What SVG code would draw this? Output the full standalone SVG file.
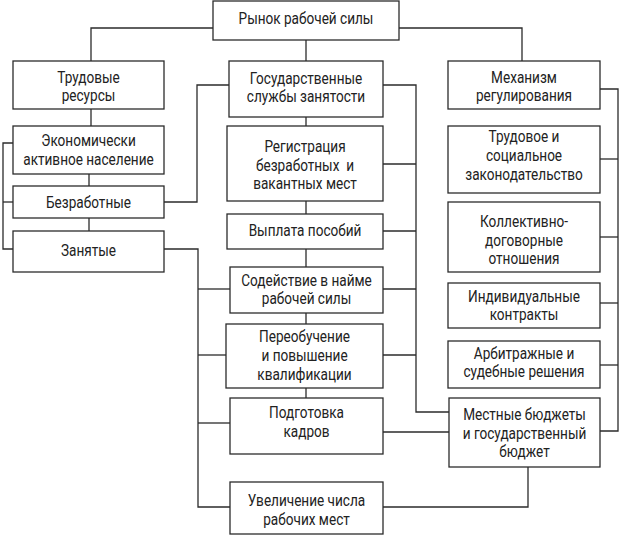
<svg xmlns="http://www.w3.org/2000/svg" width="620" height="535" viewBox="0 0 620 535">
<style>
rect{fill:#fff;stroke:#2b2b2b;stroke-width:1.3}
.c polyline,.c line{fill:none;stroke:#2b2b2b;stroke-width:1.3}
text{font-family:Roboto,"Noto Sans",sans-serif;font-size:17px;fill:#222;text-anchor:middle}
</style>
<rect x="0" y="0" width="620" height="535" style="fill:#fff;stroke:none"/>
<g class="c" id="connectors">
<polyline points="213,28 91,28 91,61"/>
<polyline points="399,28 522,28 522,61"/>
<line x1="306" y1="40" x2="306" y2="61"/>
<line x1="91" y1="109" x2="91" y2="126"/>
<line x1="89" y1="174" x2="89" y2="186"/>
<line x1="89" y1="218" x2="89" y2="231"/>
<polyline points="13,143 3,143 3,249 13,249"/>
<line x1="3" y1="202" x2="13" y2="202"/>
<polyline points="164,202 197,202 197,85 229,85"/>
<polyline points="164,249 198,249 198,507 230,507"/>
<line x1="198" y1="289" x2="230" y2="289"/>
<line x1="198" y1="355" x2="226" y2="355"/>
<line x1="198" y1="423" x2="230" y2="423"/>
<line x1="306" y1="117" x2="306" y2="126"/>
<line x1="306" y1="201" x2="306" y2="214"/>
<line x1="306" y1="249" x2="306" y2="267"/>
<line x1="306" y1="313" x2="306" y2="324"/>
<line x1="306" y1="388" x2="306" y2="398"/>
<polyline points="383,85 416,85 416,412 449,412"/>
<line x1="383" y1="164" x2="416" y2="164"/>
<line x1="383" y1="231" x2="416" y2="231"/>
<line x1="383" y1="289" x2="416" y2="289"/>
<line x1="383" y1="355" x2="416" y2="355"/>
<line x1="383" y1="432" x2="449" y2="432"/>
<polyline points="383,507 528,507 528,467"/>
<polyline points="600,89 618,89 618,431 600,431"/>
<line x1="600" y1="159" x2="618" y2="159"/>
<line x1="600" y1="237" x2="618" y2="237"/>
<line x1="600" y1="303" x2="618" y2="303"/>
<line x1="600" y1="365" x2="618" y2="365"/>
</g>
<g id="n-market"><rect x="213" y="1" width="186" height="39"/><text transform="translate(306,24) scale(0.8,1)">Рынок рабочей силы</text></g>
<g id="n-labor"><rect x="13" y="61" width="151" height="48"/><text transform="translate(88.5,83) scale(0.8,1)">Трудовые</text><text transform="translate(88.5,101) scale(0.8,1)">ресурсы</text></g>
<g id="n-active"><rect x="13" y="126" width="151" height="48"/><text transform="translate(88.5,146) scale(0.8,1)">Экономически</text><text transform="translate(88.5,164.5) scale(0.8,1)">активное население</text></g>
<g id="n-unemployed"><rect x="13" y="186" width="151" height="32"/><text transform="translate(88.5,207.5) scale(0.8,1)">Безработные</text></g>
<g id="n-employed"><rect x="13" y="231" width="151" height="41"/><text transform="translate(88.5,256) scale(0.8,1)">Занятые</text></g>
<g id="n-services"><rect x="229" y="61" width="154" height="56"/><text transform="translate(306,84) scale(0.8,1)">Государственные</text><text transform="translate(306,102) scale(0.8,1)">службы занятости</text></g>
<g id="n-registration"><rect x="227" y="126" width="156" height="75"/><text transform="translate(305,152) scale(0.8,1)">Регистрация</text><text transform="translate(305,170.5) scale(0.8,1)" xml:space="preserve">безработных  и</text><text transform="translate(305,189) scale(0.8,1)">вакантных мест</text></g>
<g id="n-benefits"><rect x="227" y="214" width="156" height="35"/><text transform="translate(305,236) scale(0.8,1)">Выплата пособий</text></g>
<g id="n-assistance"><rect x="230" y="267" width="153" height="46"/><text transform="translate(306.5,286) scale(0.8,1)">Содействие в найме</text><text transform="translate(306.5,304) scale(0.8,1)">рабочей силы</text></g>
<g id="n-retraining"><rect x="226" y="324" width="157" height="64"/><text transform="translate(304.5,342) scale(0.8,1)">Переобучение</text><text transform="translate(304.5,361) scale(0.8,1)">и повышение</text><text transform="translate(304.5,380) scale(0.8,1)">квалификации</text></g>
<g id="n-training"><rect x="230" y="398" width="153" height="56"/><text transform="translate(306.5,418) scale(0.8,1)">Подготовка</text><text transform="translate(306.5,437) scale(0.8,1)">кадров</text></g>
<g id="n-jobs"><rect x="230" y="482" width="153" height="52"/><text transform="translate(306.5,506) scale(0.8,1)">Увеличение числа</text><text transform="translate(306.5,525) scale(0.8,1)">рабочих мест</text></g>
<g id="n-mechanism"><rect x="448" y="61" width="152" height="48"/><text transform="translate(524,83) scale(0.8,1)">Механизм</text><text transform="translate(524,101) scale(0.8,1)">регулирования</text></g>
<g id="n-law"><rect x="448" y="126" width="152" height="67"/><text transform="translate(524,142) scale(0.8,1)">Трудовое и</text><text transform="translate(524,161) scale(0.8,1)">социальное</text><text transform="translate(524,180) scale(0.8,1)">законодательство</text></g>
<g id="n-collective"><rect x="448" y="202" width="152" height="70"/><text transform="translate(524,227) scale(0.8,1)">Коллективно-</text><text transform="translate(524,246) scale(0.8,1)">договорные</text><text transform="translate(524,264) scale(0.8,1)">отношения</text></g>
<g id="n-contracts"><rect x="448" y="283" width="152" height="45"/><text transform="translate(524,302) scale(0.8,1)">Индивидуальные</text><text transform="translate(524,320) scale(0.8,1)">контракты</text></g>
<g id="n-arbitration"><rect x="448" y="341" width="152" height="47"/><text transform="translate(524,359) scale(0.8,1)">Арбитражные и</text><text transform="translate(524,377) scale(0.8,1)">судебные решения</text></g>
<g id="n-budget"><rect x="449" y="398" width="151" height="69"/><text transform="translate(524.5,420) scale(0.8,1)">Местные бюджеты</text><text transform="translate(524.5,438.5) scale(0.8,1)">и государственный</text><text transform="translate(524.5,457) scale(0.8,1)">бюджет</text></g>
</svg>
